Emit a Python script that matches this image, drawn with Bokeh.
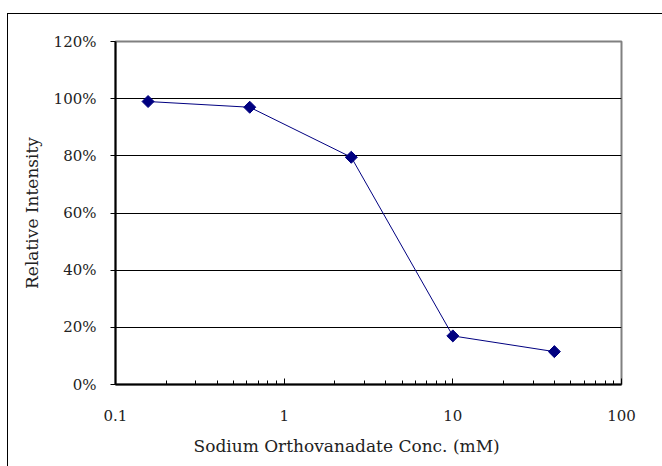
import math
from bokeh.plotting import figure
from bokeh.models import FixedTicker, NumeralTickFormatter, Range1d, Title
from bokeh.embed import file_html
from bokeh.resources import INLINE

# Data
conc = [0.156, 0.625, 2.5, 10, 40]
intensity = [0.99, 0.97, 0.795, 0.17, 0.115]

x_major = [0.1, 1, 10, 100]
x_labels = ["0.1", "1", "10", "100"]
x_minor = [m * 10.0 ** d for d in (-1, 0, 1) for m in range(2, 10)]
y_ticks = [0, 0.2, 0.4, 0.6, 0.8, 1.0, 1.2]

x_title = "Sodium Orthovanadate Conc. (mM)"
y_title = "Relative Intensity"

FONT = "DejaVu Serif"
TEXT = "#222222"

p = figure(width=662, height=466, x_axis_type="log",
           x_range=Range1d(0.1, 100), y_range=Range1d(0, 1.2),
           output_backend="svg", toolbar_location=None,
           min_border_left=115, min_border_right=41,
           min_border_top=41, min_border_bottom=82)

p.background_fill_color = "white"
p.border_fill_color = "white"
p.outline_line_color = "#808080"
p.outline_line_width = 2

# outer chart-area border (left and top edges visible)
p.stylesheets = [
    ":host::after { content: ''; position: absolute; left: 7px; top: 13px; "
    "width: 800px; height: 600px; border: 1.5px solid #000; "
    "pointer-events: none; z-index: 10; }"
]

# grid
p.xgrid.visible = False
p.ygrid.ticker = FixedTicker(ticks=y_ticks)
p.ygrid.grid_line_color = "black"
p.ygrid.grid_line_width = 1

# x axis
xa = p.xaxis[0]
xa.ticker = FixedTicker(ticks=x_major, minor_ticks=x_minor)
xa.major_label_overrides = {t: l for t, l in zip(x_major, x_labels)}
xa.axis_line_color = "black"
xa.axis_line_width = 2
xa.major_tick_in = 6
xa.major_tick_out = 0
xa.minor_tick_in = 4
xa.minor_tick_out = 0
xa.major_tick_line_color = "black"
xa.minor_tick_line_color = "black"
xa.major_label_text_font = FONT
xa.major_label_text_font_size = "15px"
xa.major_label_text_color = TEXT
xa.major_label_standoff = 25

p.add_layout(Title(text=x_title, align="left", offset=78, standoff=20,
                   text_font=FONT, text_font_size="17px",
                   text_font_style="normal", text_color=TEXT), "below")

# y axis
ya = p.yaxis[0]
ya.ticker = FixedTicker(ticks=y_ticks)
ya.formatter = NumeralTickFormatter(format="0%")
ya.axis_line_color = "black"
ya.axis_line_width = 2
ya.major_tick_in = 0
ya.major_tick_out = 5
ya.minor_tick_line_color = None
ya.major_tick_line_color = "black"
ya.major_label_text_font = FONT
ya.major_label_text_font_size = "15px"
ya.major_label_text_color = TEXT
ya.major_label_standoff = 14
ya.axis_label = y_title
ya.axis_label_text_font = FONT
ya.axis_label_text_font_style = "normal"
ya.axis_label_text_font_size = "17px"
ya.axis_label_text_color = TEXT
ya.axis_label_standoff = 9

# series
p.line(conc, intensity, line_color="#000080", line_width=1)
p.scatter(conc, intensity, marker="square", size=8.5, angle=math.pi / 4,
          fill_color="#000080", line_color="#000080")

open("out.html", "w").write(file_html(p, INLINE))
